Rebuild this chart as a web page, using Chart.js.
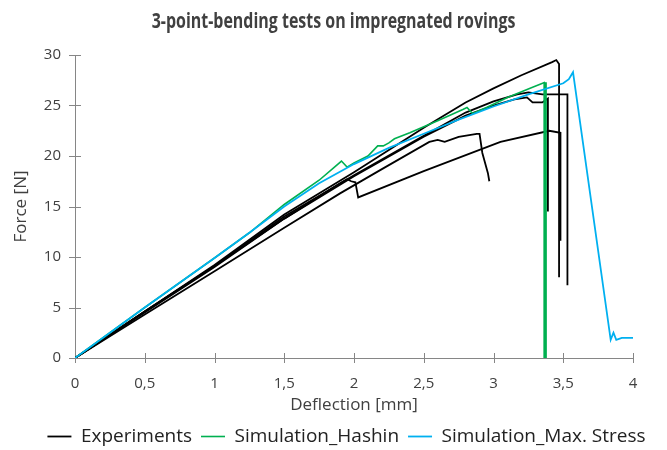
<!DOCTYPE html>
<html>
<head>
<meta charset="utf-8">
<script src="https://cdn.jsdelivr.net/npm/chart.js@4"></script>
<style>
  html, body { margin: 0; padding: 0; background: #fff; }
  #wrap { width: 667px; height: 450px; }
</style>
</head>
<body>
<div id="wrap"><canvas id="chart"></canvas></div>
<script>
// values: [deflection mm, force N]
const expA = [[0,0],[0.5,4.6],[1,9.2],[1.5,14.2],[2,18.4],[2.5,22.8],[2.8,25.3],[3,26.7],[3.2,28],[3.42,29.3],[3.45,29.5],[3.47,29.1],[3.47,8]];
const expB = [[0,0],[0.5,4.6],[1,9.1],[1.5,14],[2,18.1],[2.5,22],[2.8,24.3],[3,25.4],[3.17,26.1],[3.25,26.3],[3.35,26.1],[3.53,26.1],[3.53,7.2]];
const expC = [[0,0],[0.5,4.5],[1,9],[1.5,13.8],[2,18],[2.5,21.9],[2.8,24],[3,25],[3.15,25.6],[3.24,25.8],[3.28,25.3],[3.35,25.3],[3.39,25.7],[3.39,14.5]];
const expD = [[0,0],[0.5,4.6],[1,9.1],[1.5,13.8],[1.9,17.3],[1.95,17.7],[1.98,17.5],[2.01,17.4],[2.03,15.9],[2.5,18.5],[3.05,21.4],[3.4,22.5],[3.48,22.3],[3.48,11.6]];
const expE = [[0,0],[0.5,4.3],[1,8.6],[1.5,12.9],[1.9,16.3],[2.2,18.7],[2.54,21.4],[2.6,21.6],[2.65,21.4],[2.75,21.9],[2.88,22.2],[2.9,22.2],[2.92,20.3],[2.96,18.3],[2.97,17.5]];
const hashin = [[0,0],[0.5,5],[1,9.9],[1.25,12.4],[1.5,15.2],[1.75,17.6],[1.86,18.9],[1.91,19.5],[1.95,18.9],[2,19.3],[2.1,20],[2.17,21],[2.21,21],[2.25,21.3],[2.29,21.7],[2.4,22.3],[2.6,23.5],[2.78,24.6],[2.81,24.8],[2.85,24.2],[2.95,24.8],[3.1,25.8],[3.28,26.8],[3.37,27.3],[3.37,0]];
const maxStress = [[0,0],[0.5,5],[1,9.9],[1.25,12.4],[1.5,15],[1.75,17.3],[2,19.2],[2.25,20.8],[2.5,22.2],[2.75,23.6],[3,24.9],[3.25,26.1],[3.5,27.2],[3.54,27.6],[3.57,28.3],[3.84,1.8],[3.86,2.5],[3.88,1.8],[3.92,2],[4,2]];

const xTickValues = [0, 0.5, 1, 1.5, 2, 2.5, 3, 3.5, 4];
const xTickLabels = ["0", "0,5", "1", "1,5", "2", "2,5", "3", "3,5", "4"];
const yTickValues = [0, 5, 10, 15, 20, 25, 30];

const titleText = "3-point-bending tests on impregnated rovings";
const textColor = "#404040";
const axisColor = "#868686";
const fontFamily = "'Open Sans', sans-serif";

function blackLine(data, label) {
  return { label: label, data: data, borderColor: "#000000", borderWidth: 1.8, order: 2 };
}

// axis tick marks that cross the axis line, like the original
const crossTicks = {
  id: "crossTicks",
  beforeDatasetsDraw(chart) {
    const { ctx, chartArea, scales } = chart;
    ctx.save();
    ctx.strokeStyle = axisColor;
    ctx.lineWidth = 1;
    ctx.beginPath();
    xTickValues.forEach(v => {
      const px = Math.round(scales.x.getPixelForValue(v)) + 0.5;
      ctx.moveTo(px, chartArea.bottom - 5);
      ctx.lineTo(px, chartArea.bottom + 5);
    });
    yTickValues.forEach(v => {
      const py = Math.round(scales.y.getPixelForValue(v)) + 0.5;
      ctx.moveTo(chartArea.left - 6, py);
      ctx.lineTo(chartArea.left + 6, py);
    });
    ctx.stroke();
    ctx.restore();
  }
};

// the original title uses a narrow bold face, so squeeze Open Sans a bit
const narrowTitle = {
  id: "narrowTitle",
  afterDraw(chart) {
    const ctx = chart.ctx;
    ctx.save();
    ctx.font = "bold 21px 'Open Sans'";
    ctx.fillStyle = textColor;
    ctx.textAlign = "center";
    ctx.textBaseline = "middle";
    ctx.translate(chart.width / 2, 22);
    ctx.scale(0.76, 1);
    ctx.fillText(titleText, 0, 0);
    ctx.restore();
  }
};

// legend sits a bit right of centre in the original
const shiftLegend = {
  id: "shiftLegend",
  afterLayout(chart) {
    chart.legend.left += 30;
    chart.legend.right += 30;
  }
};

new Chart(document.getElementById("chart"), {
  type: "line",
  data: {
    datasets: [
      blackLine(expA, "Experiments"),
      blackLine(expB, ""),
      blackLine(expC, ""),
      blackLine(expD, ""),
      blackLine(expE, ""),
      {
        label: "Simulation_Hashin", data: hashin, borderColor: "#00b050", borderWidth: 1.6, order: 1,
        segment: { borderWidth: c => (c.p1.parsed.y === 0 ? 3.5 : undefined) }
      },
      { label: "Simulation_Max. Stress", data: maxStress, borderColor: "#00b0f0", borderWidth: 1.8, order: 0 }
    ]
  },
  options: {
    responsive: true,
    maintainAspectRatio: false,
    animation: false,
    elements: { point: { radius: 0 }, line: { tension: 0, fill: false } },
    layout: { padding: { left: 0, right: 34, top: 55, bottom: -6 } },
    plugins: {
      title: { display: false },
      legend: {
        position: "bottom",
        labels: {
          color: "#222",
          font: { family: fontFamily, size: 19 },
          usePointStyle: true,
          pointStyle: "line",
          pointStyleWidth: 24,
          padding: 9,
          filter: item => item.datasetIndex === 0 || item.datasetIndex > 4,
          sort: (a, b) => a.datasetIndex - b.datasetIndex
        }
      },
      tooltip: { enabled: false }
    },
    scales: {
      x: {
        type: "linear",
        min: 0,
        max: 4,
        afterFit: s => { s.height = 60; },
        ticks: {
          stepSize: 0.5,
          padding: 17,
          color: textColor,
          font: { family: fontFamily, size: 15 },
          callback: v => xTickLabels[xTickValues.indexOf(v)]
        },
        grid: { display: false, drawTicks: false },
        border: { color: axisColor, width: 1 },
        title: {
          display: true,
          text: "Deflection [mm]",
          color: textColor,
          font: { family: fontFamily, size: 17 },
          padding: { top: 0, bottom: 3 }
        }
      },
      y: {
        min: 0,
        max: 30,
        afterFit: s => { s.width = 75; },
        ticks: {
          stepSize: 5,
          padding: 14,
          color: textColor,
          font: { family: fontFamily, size: 15 }
        },
        grid: { display: false, drawTicks: false },
        border: { color: axisColor, width: 1 },
        title: {
          display: true,
          text: "Force [N]",
          color: textColor,
          font: { family: fontFamily, size: 17 },
          padding: { top: 11, bottom: 0 }
        }
      }
    }
  },
  plugins: [crossTicks, narrowTitle, shiftLegend]
});
</script>
</body>
</html>
